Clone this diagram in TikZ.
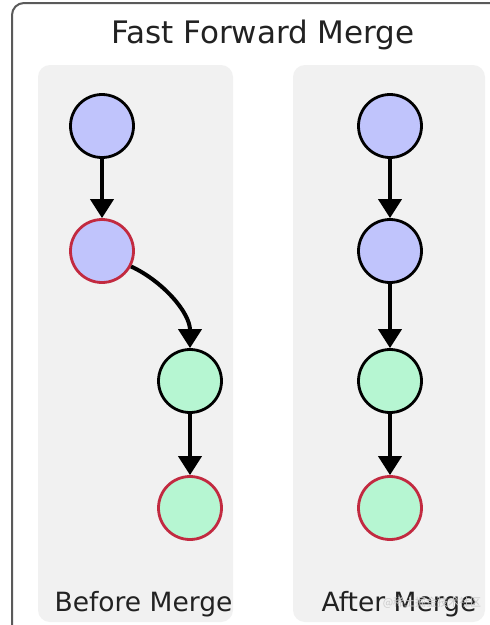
\documentclass[tikz,border=0pt]{standalone}
\usepackage{fontspec}
\setmainfont{DejaVu Sans}
\newfontfamily\cjk{Noto Sans CJK SC}
\usetikzlibrary{arrows.meta}
\definecolor{panelgray}{HTML}{F1F1F1}
\definecolor{framegray}{HTML}{5A5A5A}
\definecolor{commitblue}{HTML}{C0C4FC}
\definecolor{commitgreen}{HTML}{B6F6D2}
\definecolor{headred}{HTML}{C22A40}
\definecolor{textdark}{HTML}{222222}
\tikzset{
  panel/.style={fill=panelgray, draw=none, rounded corners=12pt},
  commit/.style={circle, minimum size=63pt, inner sep=0pt, line width=2.8pt, draw=black},
  bluec/.style={commit, fill=commitblue},
  greenc/.style={commit, fill=commitgreen},
  headc/.style={draw=headred},
  link/.style={line width=4pt, draw=black, -{Triangle[width=23pt,length=19pt]}},
  label/.style={anchor=base, text=textdark, inner sep=0pt},
}
\begin{document}
\begin{tikzpicture}[x=1pt,y=-1pt]
\useasboundingbox (0,0) rectangle (490,625);
\fill[white] (0,0) rectangle (490,625);
% outer frame
\draw[framegray, line width=2pt, rounded corners=12pt] (12,640) -- (12,3) -- (520,3);
% panels
\fill[panel] (38,65) rectangle (233,622);
\fill[panel] (293,65) rectangle (485,622);
% title
\node[label, font=\fontsize{31}{34}\selectfont] (title) at (263,43) {Fast Forward Merge};
% before merge
\node[bluec] (a1) at (102,126) {};
\node[bluec, headc] (a2) at (102,251) {};
\node[greenc] (a3) at (190,381) {};
\node[greenc, headc] (a4) at (190,508) {};
\draw[link] (a1) -- (a2);
\draw[link] (a2.-28) to[out=-25, in=90, looseness=0.9] (a3.north);
\draw[link] (a3) -- (a4);
% after merge
\node[bluec] (b1) at (390,126) {};
\node[bluec] (b2) at (390,251) {};
\node[greenc] (b3) at (390,381) {};
\node[greenc, headc] (b4) at (390,508) {};
\draw[link] (b1) -- (b2);
\draw[link] (b2) -- (b3);
\draw[link] (b3) -- (b4);
% labels
\node[label, font=\fontsize{26.5}{30}\selectfont] (before) at (143.5,611) {Before Merge};
\node[label, font=\fontsize{26.5}{30}\selectfont] (after) at (399,611) {After Merge};
\node[anchor=base, inner sep=0pt, text=gray!40, font=\cjk\fontsize{11}{13}\selectfont] (wm) at (432,606) {@稀土掘金技术社区};
\end{tikzpicture}
\end{document}
